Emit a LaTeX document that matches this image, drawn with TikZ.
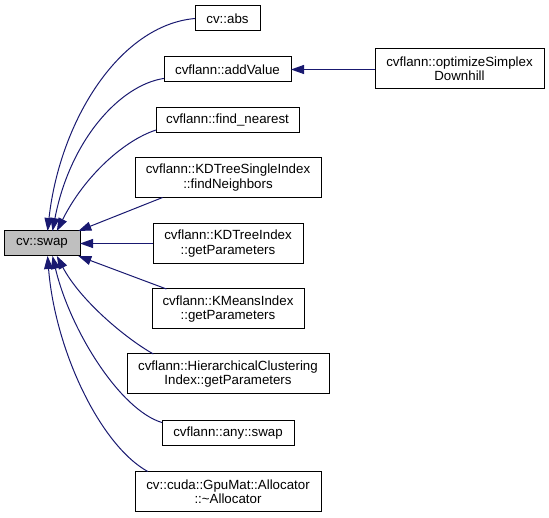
\documentclass[tikz,border=0pt]{standalone}
\usepackage{fontspec}
\setmainfont{Liberation Sans}
\usetikzlibrary{arrows.meta}
\definecolor{edgeblue}{HTML}{191970}
\definecolor{swapgray}{HTML}{BFBFBF}
\begin{document}
\begin{tikzpicture}[x=1pt,y=-1pt,
  box/.style={draw=black, line width=1pt, inner sep=0pt, outer sep=0pt, align=center,
    font=\fontsize{13.3}{14.5}\selectfont},
  onel/.style={minimum height=25pt},
  twol/.style={minimum height=40pt},
  edge/.style={draw=edgeblue, line width=1pt, {Triangle[length=13pt,width=9pt]}-}
  ]
\useasboundingbox (0,0) rectangle (549,518);

\node[box, onel, fill=swapgray, minimum width=76pt] (swap) at (42,243.5) {cv::swap};
\node[box, onel, minimum width=65pt] (abs) at (227.5,18.5) {cv::abs};
\node[box, onel, minimum width=127pt] (addv) at (227.5,69.5) {cvflann::addValue};
\node[box, twol, minimum width=169pt] (opt) at (459.5,69) {cvflann::optimizeSimplex\\Downhill};
\node[box, onel, minimum width=143pt] (find) at (227.5,120) {cvflann::find\_nearest};
\node[box, twol, minimum width=186pt] (kds) at (228,177.5) {cvflann::KDTreeSingleIndex\\::findNeighbors};
\node[box, twol, minimum width=150pt] (kdt) at (228,243.5) {cvflann::KDTreeIndex\\::getParameters};
\node[box, twol, minimum width=152pt] (km) at (228,309) {cvflann::KMeansIndex\\::getParameters};
\node[box, twol, minimum width=202pt] (hier) at (228,374) {cvflann::HierarchicalClustering\\Index::getParameters};
\node[box, onel, minimum width=132pt] (anys) at (228,433) {cvflann::any::swap};
\node[box, twol, minimum width=186pt] (alloc) at (228,491.5) {cv::cuda::GpuMat::Allocator\\::\textasciitilde Allocator};

\draw[edge] (addv.east) -- (opt.west |- addv.east);
\draw[edge] (swap.66) .. controls (60,120) and (120,25) .. (abs.west);
\draw[edge] (swap.50) .. controls (70,140) and (120,85) .. (addv.188);
\draw[edge] (swap.40) .. controls (85,175) and (125,140) .. (find.188);
\draw[edge] (swap.19) -- (kds.197);
\draw[edge] (swap.east) -- (kdt.west);
\draw[edge] (swap.-19) -- (km.162);
\draw[edge] (swap.-40) .. controls (80,300) and (125,338) .. (hier.165);
\draw[edge] (swap.-50) .. controls (70,330) and (120,410) .. (anys.171);
\draw[edge] (swap.-66) .. controls (55,350) and (100,445) .. (alloc.166);
\end{tikzpicture}
\end{document}
